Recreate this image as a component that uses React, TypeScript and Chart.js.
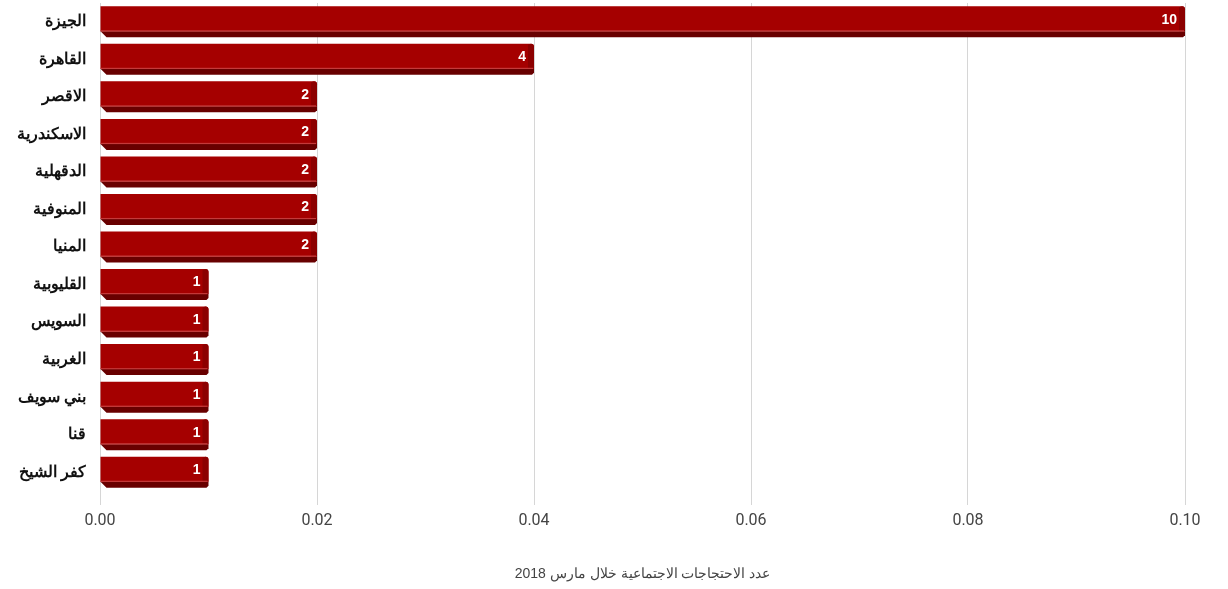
import React, { useEffect, useRef } from "react";
import { Chart, registerables } from "chart.js";

Chart.register(...registerables);

const categories = [
  "الجيزة",
  "القاهرة",
  "الاقصر",
  "الاسكندرية",
  "الدقهلية",
  "المنوفية",
  "المنيا",
  "القليوبية",
  "السويس",
  "الغربية",
  "بني سويف",
  "قنا",
  "كفر الشيخ",
];
const values = [0.1, 0.04, 0.02, 0.02, 0.02, 0.02, 0.02, 0.01, 0.01, 0.01, 0.01, 0.01, 0.01];
const counts = ["10", "4", "2", "2", "2", "2", "2", "1", "1", "1", "1", "1", "1"];
const tickLabels = ["0.00", "0.02", "0.04", "0.06", "0.08", "0.10"];
const axisTitle = "عدد الاحتجاجات الاجتماعية خلال مارس 2018";

const bar3d = {
  id: "bar3d",
  afterDatasetsDraw(chart: any) {
    const ctx = chart.ctx;
    const meta = chart.getDatasetMeta(0);
    meta.data.forEach((el: any, i: number) => {
      const p = el.getProps(["x", "y", "base", "height"], true);
      const x0 = p.base;
      const x1 = p.x;
      const top = p.y - p.height / 2;
      const bot = p.y + p.height / 2;
      const faceBot = bot - 6;
      ctx.save();
      // depth strip
      ctx.fillStyle = "#680000";
      ctx.beginPath();
      ctx.moveTo(x0, faceBot);
      ctx.lineTo(x1, faceBot);
      ctx.lineTo(x1, bot - 2);
      ctx.lineTo(x1 - 2, bot);
      ctx.lineTo(x0 + 6, bot);
      ctx.closePath();
      ctx.fill();
      // face
      const r = 3;
      ctx.fillStyle = "#a50000";
      ctx.beginPath();
      ctx.moveTo(x0, top);
      ctx.lineTo(x1 - r, top);
      ctx.quadraticCurveTo(x1, top, x1, top + r);
      ctx.lineTo(x1, faceBot);
      ctx.lineTo(x0, faceBot);
      ctx.closePath();
      ctx.fill();
      // right bevel
      ctx.fillStyle = "#8c0000";
      ctx.beginPath();
      ctx.moveTo(x1 - 6, top + 1);
      ctx.lineTo(x1 - r, top);
      ctx.quadraticCurveTo(x1, top, x1, top + r);
      ctx.lineTo(x1, faceBot);
      ctx.lineTo(x1 - 6, faceBot);
      ctx.closePath();
      ctx.fill();
      // highlight line
      ctx.fillStyle = "#c43a3a";
      ctx.fillRect(x0, faceBot - 1, x1 - x0 - 1, 1.2);
      // label
      ctx.fillStyle = "#ffffff";
      ctx.font = "bold 14px 'Liberation Sans', Arial, sans-serif";
      ctx.textAlign = "right";
      ctx.textBaseline = "middle";
      ctx.fillText(counts[i], x1 - 8, (top + faceBot) / 2 + 1);
      ctx.restore();
    });
  },
};

export default function App() {
  const ref = useRef<HTMLCanvasElement>(null);
  useEffect(() => {
    if (!ref.current) return;
    const chart = new Chart(ref.current, {
      type: "bar",
      data: {
        labels: categories,
        datasets: [
          {
            data: values,
            backgroundColor: "rgba(0,0,0,0)",
            borderWidth: 0,
            barThickness: 31,
          },
        ],
      },
      plugins: [bar3d],
      options: {
        indexAxis: "y",
        animation: false,
        responsive: false,
        layout: { padding: { top: 3, right: 43, bottom: 0, left: 0 } },
        plugins: { legend: { display: false }, tooltip: { enabled: false } },
        scales: {
          x: {
            min: 0,
            max: 0.1,
            ticks: {
              stepSize: 0.02,
              color: "#444",
              font: { size: 16, family: "Roboto, 'Liberation Sans', sans-serif" },
              padding: 6,
              callback: (_v: any, i: number) => tickLabels[i],
            },
            grid: { color: "#d6d6d6", tickLength: 14, drawTicks: true },
            border: { display: false },
            title: {
              display: true,
              text: axisTitle,
              color: "#444",
              font: { size: 14, family: "'Liberation Sans', Arial, sans-serif" },
              padding: { top: 24, bottom: 6 },
            },
            afterFit: (s: any) => {
              s.height = 98;
            },
          },
          y: {
            ticks: {
              color: "#111",
              font: { size: 16, weight: "bold", family: "'Liberation Sans', Arial, sans-serif" },
              padding: 6,
            },
            grid: { display: false },
            border: { display: false },
            afterFit: (s: any) => {
              s.width = 100;
              s.paddingTop = 0;
              s.paddingBottom = 0;
            },
          },
        },
      },
    } as any);
    return () => chart.destroy();
  }, []);
  return (
    <div style={{ position: "fixed", left: 0, top: 0, width: 1228, height: 589, background: "#fff" }}>
      <canvas ref={ref} width={1228} height={589} />
    </div>
  );
}
